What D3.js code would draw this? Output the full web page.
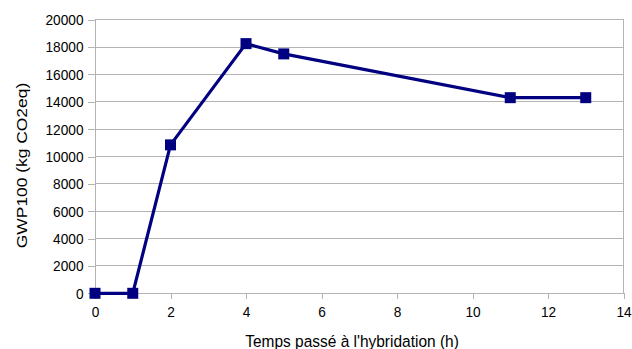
<!DOCTYPE html>
<html><head><meta charset="utf-8">
<script src="https://cdn.jsdelivr.net/npm/d3@7"></script>
<style>body{margin:0;background:#fff}svg{display:block}text{font-family:"Liberation Sans",Arial,sans-serif;fill:#000}</style>
</head><body>
<svg id="c" width="632" height="349"></svg>
<script>
const hours = [0, 1, 2, 4, 5, 11, 13];
const gwp = [0, 0, 10850, 18250, 17500, 14300, 14300];
const xTicks = [0, 2, 4, 6, 8, 10, 12, 14];
const yTicks = [0, 2000, 4000, 6000, 8000, 10000, 12000, 14000, 16000, 18000, 20000];
const xTitle = "Temps passé à l'hybridation (h)";
const yTitle = "GWP100 (kg CO2eq)";

const svg = d3.select("#c");
const L = 95, R = 623.5, T = 19.7, B = 293.3;
const x = d3.scaleLinear().domain([0, 14]).range([L, R]);
const y = d3.scaleLinear().domain([0, 20000]).range([B, T]);
const grid = "#b3b3b3";
const sx = 0.9;

svg.append("g").selectAll("line").data(yTicks).join("line")
  .attr("x1", L).attr("x2", R).attr("y1", d => y(d)).attr("y2", d => y(d))
  .attr("stroke", grid).attr("stroke-width", 1).attr("shape-rendering","crispEdges");
svg.append("line").attr("x1", R).attr("x2", R).attr("y1", T).attr("y2", B)
  .attr("stroke", grid).attr("shape-rendering","crispEdges");

const xa = svg.append("g").attr("transform", `translate(0,${B})`)
  .call(d3.axisBottom(x).tickValues(xTicks).tickSize(6).tickPadding(7).tickFormat(d3.format("d")));
const ya = svg.append("g").attr("transform", `translate(${L},0)`)
  .call(d3.axisLeft(y).tickValues(yTicks).tickSize(7).tickPadding(4.5).tickFormat(d3.format("d")));
[xa, ya].forEach(a => {
  a.selectAll("path,line").attr("stroke", grid).attr("shape-rendering","crispEdges");
  a.selectAll("text").style("font-size", "15.2px").attr("fill", "#000");
});
xa.selectAll("text").attr("transform", `scale(${sx},1)`);
ya.selectAll("text").each(function() {
  const t = d3.select(this); const ox = +t.attr("x");
  t.attr("x", 0).attr("transform", `translate(${ox},0) scale(${sx},1)`);
});

svg.append("path").datum(hours.map((h, i) => [h, gwp[i]]))
  .attr("fill", "none").attr("stroke", "#000080").attr("stroke-width", 3.2).attr("stroke-linejoin","round")
  .attr("d", d3.line().x(d => x(d[0])).y(d => y(d[1])));
const s = 11;
svg.append("g").selectAll("rect").data(hours.map((h, i) => [h, gwp[i]])).join("rect")
  .attr("x", d => x(d[0]) - s/2).attr("y", d => y(d[1]) - s/2)
  .attr("width", s).attr("height", s).attr("fill", "#000080");

svg.append("text").attr("transform", `translate(352,347) scale(0.91,1)`).attr("text-anchor", "middle")
  .style("font-size", "17px").text(xTitle);
svg.append("text").attr("transform", `translate(27,165.5) scale(0.89,1) rotate(-90)`).attr("text-anchor", "middle")
  .style("font-size", "17.4px").text(yTitle);
</script>
</body></html>
